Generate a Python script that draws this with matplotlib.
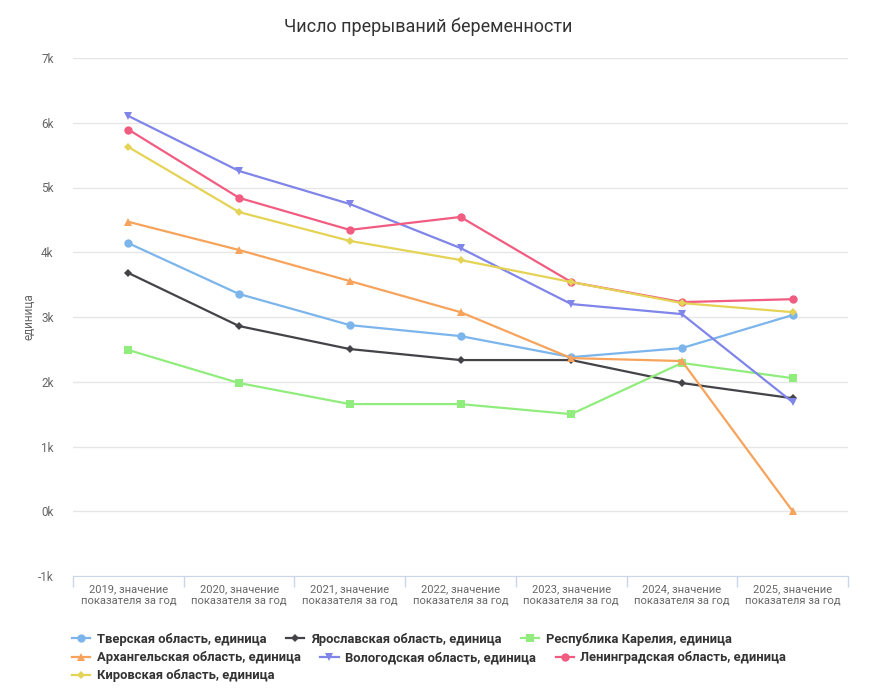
import matplotlib
matplotlib.use('Agg')
import matplotlib.pyplot as plt
from matplotlib.lines import Line2D

plt.rcParams['font.family'] = ['Roboto', 'DejaVu Sans']

# x categories
years = ['2019', '2020', '2021', '2022', '2023', '2024', '2025']
x_labels = [f'{y}, значение\nпоказателя за год' for y in years]

# series values
tver = [4140, 3355, 2875, 2705, 2380, 2520, 3030]
yaroslavl = [3680, 2860, 2505, 2335, 2335, 1980, 1745]
karelia = [2490, 1980, 1655, 1655, 1500, 2290, 2055]
arkhangelsk = [4470, 4035, 3555, 3075, 2365, 2320, 0]
vologda = [6105, 5255, 4745, 4065, 3200, 3045, 1685]
leningrad = [5895, 4840, 4345, 4545, 3540, 3230, 3275]
kirov = [5625, 4620, 4175, 3880, 3540, 3215, 3075]

y_ticks = [-1000, 0, 1000, 2000, 3000, 4000, 5000, 6000, 7000]
y_tick_labels = ['-1k', '0k', '1k', '2k', '3k', '4k', '5k', '6k', '7k']

series = [
    ('Тверская область, единица', tver, '#7cb5ec', 'o', 6.0),
    ('Ярославская область, единица', yaroslavl, '#434348', 'D', 4.2),
    ('Республика Карелия, единица', karelia, '#90ed7d', 's', 5.6),
    ('Архангельская область, единица', arkhangelsk, '#f7a35c', '^', 6.2),
    ('Вологодская область, единица', vologda, '#8085e9', 'v', 6.2),
    ('Ленинградская область, единица', leningrad, '#f15c80', 'o', 6.0),
    ('Кировская область, единица', kirov, '#e4d354', 'D', 4.2),
]

fig = plt.figure(figsize=(8.73, 6.95), dpi=100)
ax = fig.add_axes([73 / 873, 1 - 576 / 695, (848 - 73) / 873, (576 - 58) / 695])

for name, vals, color, marker, ms in series:
    ax.plot(range(len(vals)), vals, color=color, lw=1.6, marker=marker,
            markersize=ms, markeredgewidth=0, label=name, zorder=3)

ax.set_xlim(-0.5, len(years) - 0.5)
ax.set_ylim(-1000, 7000)
ax.set_yticks(y_ticks)
ax.set_yticklabels(y_tick_labels)
ax.set_xticks(range(len(years)))
ax.set_xticklabels(x_labels)
ax.set_xticks([i - 0.5 for i in range(len(years) + 1)], minor=True)

ax.grid(axis='y', color='#e6e6e6', lw=1)
ax.set_axisbelow(True)
for s in ['top', 'right', 'left']:
    ax.spines[s].set_visible(False)
ax.spines['bottom'].set_color('#ccd6eb')
ax.spines['bottom'].set_position(('data', -1000))

ax.tick_params(axis='y', length=0, pad=14, labelsize=8.5, labelcolor='#666666')
ax.tick_params(axis='x', which='major', length=0, pad=6, labelsize=8, labelcolor='#666666')
ax.tick_params(axis='x', which='minor', length=8, color='#ccd6eb', width=1)

ax.set_ylabel('единица', color='#666666', fontsize=8.5, labelpad=2)
fig.text(428 / 873, 1 - 27 / 695, 'Число прерываний беременности',
         ha='center', va='center', fontsize=13, color='#333333')

# legend laid out row by row like the original
rows = [[0, 1, 2], [3, 4, 5], [6]]
row_y = [639, 658, 676]
for idx, yy in zip(rows, row_y):
    hs = []
    for i in idx:
        name, vals, color, marker, ms = series[i]
        hs.append(Line2D([], [], color=color, lw=1.6, marker=marker,
                         markersize=ms, markeredgewidth=0, label=name))
    leg = fig.legend(handles=hs, loc='center left', ncol=len(hs),
                     bbox_to_anchor=(72 / 873, 1 - yy / 695), frameon=False,
                     fontsize=9.4, handlelength=1.4, handletextpad=0.5,
                     columnspacing=1.5, borderaxespad=0, borderpad=0)
    for t in leg.get_texts():
        t.set_color('#333333')
        t.set_fontweight('semibold')

fig.savefig('out.png', dpi=100, facecolor='white')
